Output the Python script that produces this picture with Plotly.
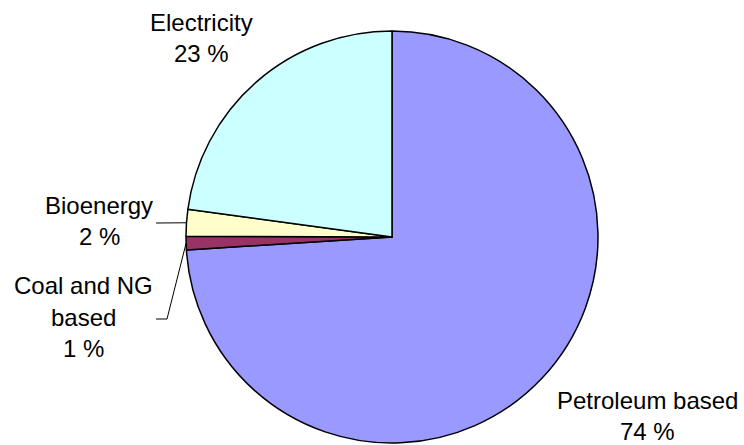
import math
import plotly.graph_objects as go

categories = ["Petroleum based", "Coal and NG based", "Bioenergy", "Electricity"]
values = [74.0, 1.05, 2.1, 22.85]
label_lines = [["Petroleum based", "74 %"],
               ["Coal and NG", "based", "1 %"],
               ["Bioenergy", "2 %"],
               ["Electricity", "23 %"]]
colors = ["#9999FF", "#993366", "#FFFFCC", "#CCFFFF"]

W, H = 744, 445
CX, CY, R = 392, 237, 206

# label block centres (pixels)
label_pos = [(647, 416), (83, 317), (99, 221), (201, 38)]
FONT = 24
LINE_H = 31.5

fig = go.Figure(go.Pie(
    labels=categories, values=values, sort=False, direction="clockwise",
    rotation=0, textinfo="none", hoverinfo="label+percent",
    marker=dict(colors=colors, line=dict(color="black", width=1.5)),
    domain=dict(x=[(CX - R) / W, (CX + R) / W], y=[(H - CY - R) / H, (H - CY + R) / H]),
    showlegend=False,
))

def px(x, y):
    return x / W, 1 - y / H

annotations = []
for lines, (lx, ly) in zip(label_lines, label_pos):
    n = len(lines)
    for i, t in enumerate(lines):
        yy = ly + (i - (n - 1) / 2) * LINE_H
        ax, ay = px(lx, yy)
        annotations.append(dict(x=ax, y=ay, xref="paper", yref="paper", text=t,
                                showarrow=False, xanchor="center", yanchor="middle",
                                font=dict(family="Liberation Sans, Arial", size=FONT, color="black")))

# leader lines from slice mid-angle on the pie edge
total = sum(values)
cum = 0
mids = []
for v in values:
    mids.append((cum + v / 2) / total * 360)
    cum += v

def edge(angle_deg):
    a = math.radians(angle_deg)
    return CX + R * math.sin(a), CY - R * math.cos(a)

shapes = []
# Bioenergy
ex, ey = edge(mids[2])
x0, y0 = px(156, 223)
x1, y1 = px(ex, ey)
shapes.append(dict(type="line", xref="paper", yref="paper", x0=x0, y0=y0, x1=x1, y1=y1,
                   line=dict(color="black", width=1)))
# Coal and NG
ex, ey = edge(mids[1])
pts = [px(156, 319), px(167, 319), px(ex, ey)]
for (a, b), (c, d) in zip(pts[:-1], pts[1:]):
    shapes.append(dict(type="line", xref="paper", yref="paper", x0=a, y0=b, x1=c, y1=d,
                       line=dict(color="black", width=1)))

fig.update_layout(width=W, height=H, margin=dict(l=0, r=0, t=0, b=0),
                  paper_bgcolor="white", plot_bgcolor="white",
                  annotations=annotations, shapes=shapes)
fig.write_html("out.html")
